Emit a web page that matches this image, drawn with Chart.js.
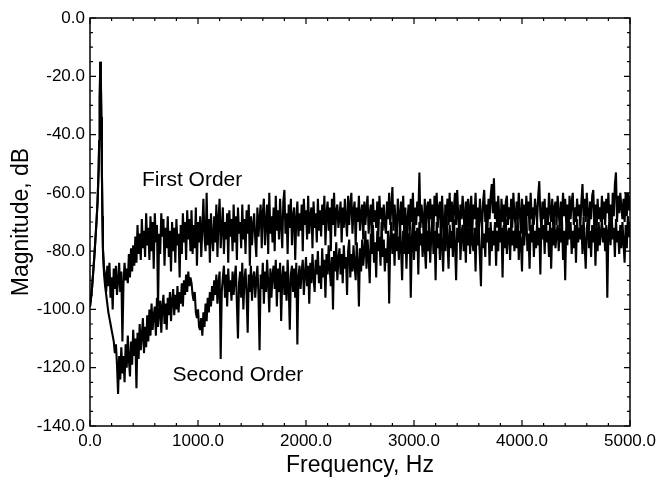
<!DOCTYPE html>
<html>
<head>
<meta charset="utf-8">
<script src="https://cdn.jsdelivr.net/npm/chart.js@4.4.0/dist/chart.umd.min.js"></script>
<style>
  body { margin: 0; background: #fff; }
  canvas { display: block; }
</style>
</head>
<body>
<canvas id="spectrum" width="662" height="483"></canvas>
<script>
// frequency bins (Hz): fine steps around the resonance, then a 10 Hz grid
const lowHz = [0, 10, 20, 30, 40, 50, 60, 70, 80, 85, 90, 95, 100, 105, 110, 115, 120, 130];
const binStartHz = 140;
const binStepHz = 10;

// shared part of both curves (0 - 130 Hz)
const lowFirst  = [-99, -96, -92, -87, -82, -76, -70, -63, -52, -42, -28, -15, -19, -34, -52, -68, -79, -86];
const lowSecond = [-99, -96, -92, -87, -82, -76, -70, -63, -52, -42, -28, -15, -19, -34, -52, -68, -80, -88];

// magnitude (dB), 140 Hz .. 5000 Hz, one row = 200 Hz
const firstOrder = [
  -88, -94, -85, -92, -84, -96, -89, -100, -86, -93, -85, -95, -90, -84, -94, -87, -111, -91, -84, -90,
  -86, -91, -81, -89, -79, -87, -78, -85, -75, -84, -71, -81, -74, -83, -69, -79, -73, -82, -67, -78,
  -72, -83, -68, -80, -70, -86, -67, -77, -71, -99, -74, -81, -67, -75, -69, -85, -72, -79, -68, -82,
  -73, -87, -70, -80, -72, -84, -69, -78, -74, -89, -71, -81, -67, -77, -70, -83, -66, -76, -69, -80,
  -66, -81, -71, -79, -65, -85, -70, -77, -68, -82, -72, -62, -75, -80, -60, -78, -69, -84, -67, -75,
  -80, -68, -77, -64, -82, -69, -62, -79, -72, -65, -81, -70, -76, -67, -84, -66, -75, -69, -80, -64,
  -77, -68, -83, -65, -74, -70, -79, -64, -76, -69, -81, -66, -74, -64, -85, -68, -78, -71, -67, -76,
  -82, -65, -75, -69, -64, -79, -67, -62, -78, -70, -64, -81, -60, -74, -68, -77, -65, -80, -61, -73,
  -66, -76, -62, -71, -79, -63, -59, -74, -67, -81, -64, -72, -62, -78, -68, -65, -83, -69, -63, -75,
  -67, -73, -64, -80, -62, -71, -66, -76, -61, -74, -68, -65, -79, -63, -72, -67, -77, -62, -73, -66,
  -75, -64, -71, -61, -78, -67, -63, -73, -65, -80, -62, -71, -60, -75, -66, -64, -72, -68, -63, -77,
  -65, -72, -62, -69, -75, -61, -71, -64, -60, -74, -66, -63, -78, -65, -70, -61, -73, -67, -64, -76,
  -63, -71, -65, -61, -74, -67, -64, -77, -62, -70, -66, -72, -63, -75, -61, -69, -65, -73, -64, -71,
  -74, -63, -69, -60, -71, -65, -58, -73, -64, -70, -76, -62, -68, -72, -63, -71, -61, -75, -65, -79,
  -69, -64, -73, -62, -70, -60, -75, -65, -71, -63, -68, -53, -72, -64, -69, -73, -62, -77, -65, -63,
  -71, -62, -69, -64, -74, -61, -68, -60, -72, -65, -63, -75, -61, -70, -78, -64, -68, -62, -71, -60,
  -70, -63, -73, -65, -60, -71, -59, -68, -74, -64, -69, -61, -67, -76, -63, -70, -62, -72, -65, -61,
  -73, -64, -69, -60, -71, -65, -75, -62, -68, -72, -63, -59, -70, -64, -73, -62, -69, -61, -57, -67,
  -55, -69, -63, -72, -61, -68, -74, -62, -70, -64, -77, -63, -61, -71, -65, -69, -62, -72, -60, -68,
  -71, -63, -69, -60, -67, -74, -62, -70, -64, -72, -61, -68, -63, -73, -60, -69, -65, -71, -62, -66,
  -70, -61, -56, -68, -72, -63, -69, -62, -75, -65, -71, -60, -66, -70, -62, -73, -65, -63, -71, -61,
  -67, -72, -63, -69, -60, -68, -62, -71, -64, -74, -61, -69, -63, -60, -71, -65, -70, -62, -68, -64,
  -72, -63, -57, -68, -62, -70, -60, -67, -73, -63, -69, -61, -59, -71, -64, -74, -62, -69, -65, -70,
  -61, -69, -63, -71, -62, -67, -60, -72, -64, -74, -60, -68, -57, -53, -70, -61, -67, -60, -65, -69,
  -62, -70, -60, -68, -60, -66, -61
];

const secondOrder = [
  -92, -95, -98, -101, -103, -105, -107, -109, -111, -115, -112, -119, -129, -116, -124, -113, -122, -116, -125, -112,
  -120, -109, -117, -123, -111, -119, -107, -116, -110, -127, -108, -117, -105, -114, -109, -103, -115, -106, -113, -102,
  -111, -100, -109, -98, -107, -102, -99, -109, -96, -106, -101, -97, -108, -99, -95, -105, -98, -107, -96, -102,
  -94, -104, -97, -93, -102, -95, -100, -92, -101, -94, -98, -91, -99, -90, -95, -88, -94, -87, -92, -89,
  -91, -95, -97, -94, -101, -103, -100, -106, -107, -103, -109, -101, -106, -98, -104, -96, -101, -94, -99, -92,
  -97, -90, -95, -88, -98, -91, -87, -117, -94, -89, -85, -96, -88, -99, -86, -94, -90, -97, -87, -95,
  -89, -85, -98, -110, -91, -87, -96, -84, -100, -90, -86, -95, -108, -88, -94, -85, -97, -89, -87, -96,
  -90, -85, -95, -114, -88, -93, -84, -98, -87, -94, -83, -91, -101, -86, -96, -88, -85, -93, -83, -99,
  -86, -94, -84, -104, -89, -85, -95, -87, -97, -83, -92, -107, -88, -85, -94, -86, -96, -84, -112, -89,
  -85, -93, -87, -83, -95, -88, -82, -92, -85, -98, -84, -91, -81, -89, -94, -83, -88, -80, -91, -85,
  -93, -79, -89, -83, -96, -81, -88, -78, -86, -92, -82, -100, -80, -87, -77, -90, -83, -79, -88, -81,
  -91, -78, -86, -82, -95, -80, -76, -89, -81, -87, -78, -85, -90, -77, -84, -99, -79, -87, -76, -85,
  -80, -73, -86, -76, -82, -91, -74, -81, -71, -84, -77, -89, -73, -80, -75, -85, -70, -82, -76, -87,
  -79, -84, -73, -98, -76, -70, -81, -74, -85, -71, -80, -75, -83, -69, -79, -90, -73, -81, -72, -86,
  -74, -81, -71, -96, -76, -69, -83, -73, -80, -72, -88, -70, -78, -74, -82, -71, -79, -86, -73, -80,
  -71, -84, -75, -68, -81, -73, -90, -70, -79, -74, -83, -69, -78, -87, -72, -80, -66, -77, -86, -71,
  -79, -73, -82, -69, -78, -90, -72, -77, -68, -83, -74, -71, -80, -73, -84, -70, -78, -72, -81, -67,
  -77, -80, -72, -87, -70, -78, -73, -82, -92, -71, -79, -74, -82, -68, -77, -72, -85, -70, -80, -73,
  -78, -70, -85, -73, -80, -67, -77, -72, -89, -71, -79, -69, -81, -74, -72, -83, -69, -78, -73, -80,
  -71, -79, -68, -83, -73, -77, -87, -70, -78, -72, -67, -80, -74, -86, -71, -77, -69, -82, -73, -79,
  -70, -78, -72, -88, -69, -76, -71, -81, -68, -77, -73, -82, -70, -86, -72, -78, -69, -79, -74, -71,
  -80, -72, -77, -69, -83, -73, -90, -71, -78, -68, -76, -70, -81, -73, -79, -71, -84, -69, -77, -72,
  -76, -71, -81, -68, -78, -86, -72, -69, -79, -73, -82, -71, -77, -69, -85, -72, -80, -70, -78, -74,
  -69, -77, -72, -80, -71, -96, -73, -70, -78, -67, -76, -72, -82, -69, -77, -73, -81, -71, -79, -70,
  -77, -84, -71, -79, -68, -75, -70
];

const xTicks = [0, 1000, 2000, 3000, 4000, 5000];
const yTicks = [-140, -120, -100, -80, -60, -40, -20, 0];

const noteText = ['First Order', 'Second Order'];
const noteHz = [945, 1370];
const noteDb = [-55.5, -122.5];

const freqHz = lowHz.concat(firstOrder.map((_, i) => binStartHz + i * binStepHz));

function toPoints(low, rest) {
  const mags = low.concat(rest);
  return freqHz.map((f, i) => ({ x: f, y: mags[i] }));
}

const frame = {
  id: 'frame',
  afterDatasetsDraw(chart) {
    const { ctx, chartArea: a, scales: { x, y } } = chart;
    ctx.save();
    ctx.strokeStyle = '#000';
    ctx.lineWidth = 1.5;
    ctx.strokeRect(a.left, a.top, a.right - a.left, a.bottom - a.top);

    // inward ticks on all four sides
    ctx.lineWidth = 1.2;
    ctx.beginPath();
    for (let f = 0; f <= 5000; f += 200) {
      const px = x.getPixelForValue(f);
      const len = f % 1000 === 0 ? 6 : 3;
      ctx.moveTo(px, a.bottom); ctx.lineTo(px, a.bottom - len);
      ctx.moveTo(px, a.top); ctx.lineTo(px, a.top + len);
    }
    for (let v = -140; v <= 0; v += 5) {
      const py = y.getPixelForValue(v);
      const len = v % 20 === 0 ? 6 : 3;
      ctx.moveTo(a.left, py); ctx.lineTo(a.left + len, py);
      ctx.moveTo(a.right, py); ctx.lineTo(a.right - len, py);
    }
    ctx.stroke();

    ctx.fillStyle = '#000';
    ctx.font = '21px "Liberation Sans", Arial, sans-serif';
    ctx.textAlign = 'center';
    ctx.textBaseline = 'middle';
    noteText.forEach((t, i) => {
      ctx.fillText(t, x.getPixelForValue(noteHz[i]), y.getPixelForValue(noteDb[i]));
    });
    ctx.restore();
  }
};

const tickFont = { family: '"Liberation Sans", Arial, sans-serif', size: 17 };
const titleFont = { family: '"Liberation Sans", Arial, sans-serif', size: 23 };

new Chart(document.getElementById('spectrum'), {
  type: 'line',
  data: {
    datasets: [
      { label: 'First Order', data: toPoints(lowFirst, firstOrder) },
      { label: 'Second Order', data: toPoints(lowSecond, secondOrder) }
    ]
  },
  options: {
    responsive: false,
    animation: false,
    layout: { padding: { top: 18, right: 32, left: 0, bottom: 0 } },
    elements: {
      line: { borderColor: '#000', borderWidth: 2.1, tension: 0, borderJoinStyle: 'bevel' },
      point: { radius: 0 }
    },
    plugins: { legend: { display: false }, tooltip: { enabled: false } },
    scales: {
      x: {
        type: 'linear',
        min: 0,
        max: 5000,
        afterFit: (s) => { s.height = 57; },
        afterBuildTicks: (s) => { s.ticks = xTicks.map(v => ({ value: v })); },
        grid: { display: false, drawTicks: false },
        border: { display: false },
        ticks: { color: '#000', font: tickFont, padding: 5, maxRotation: 0, callback: v => v.toFixed(1) },
        title: { display: true, text: 'Frequency, Hz', color: '#000', font: titleFont, padding: { top: 0, bottom: 4 } }
      },
      y: {
        min: -140,
        max: 0,
        afterFit: (s) => { s.width = 90; },
        afterBuildTicks: (s) => { s.ticks = yTicks.map(v => ({ value: v })); },
        grid: { display: false, drawTicks: false },
        border: { display: false },
        ticks: { color: '#000', font: tickFont, padding: 5, callback: v => v.toFixed(1) },
        title: { display: true, text: 'Magnitude, dB', color: '#000', font: titleFont, padding: { top: 8, bottom: 0 } }
      }
    }
  },
  plugins: [frame]
});
</script>
</body>
</html>
